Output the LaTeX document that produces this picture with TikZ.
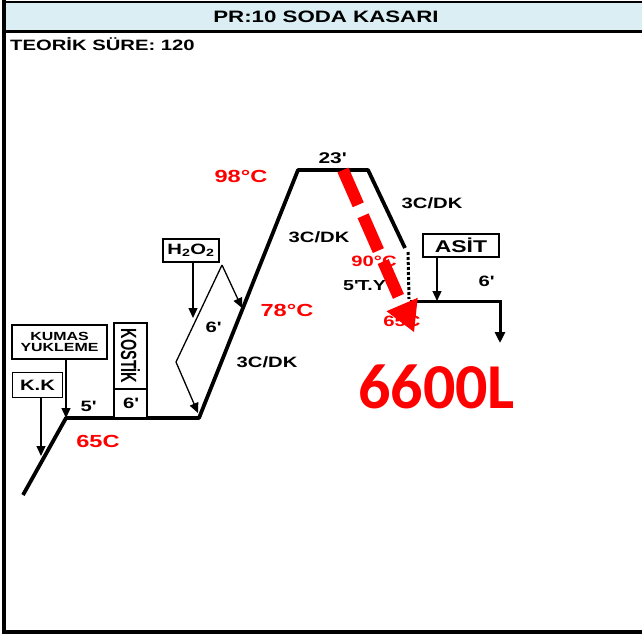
\documentclass[tikz,border=0pt]{standalone}
\usepackage{fontspec}
\setmainfont{Liberation Sans}[FakeStretch=1.35]
\newfontfamily\plainsans{Liberation Sans}
\newfontfamily\calib{Carlito}
\usetikzlibrary{arrows.meta}
\newcommand\fsz[1]{\fontsize{#1}{#1}\selectfont}
\newcommand\pr{\textquotesingle}
\definecolor{hdr}{HTML}{DAEEF3}
\definecolor{rd}{HTML}{FF0000}
\begin{document}
\begin{tikzpicture}[x=1pt,y=-1pt,
  lbl/.style={inner sep=0, anchor=center},
  redlbl/.style={lbl, text=rd},
  box/.style={draw, line width=1.3pt, inner sep=0, fill=white},
  thinline/.style={line width=1.3pt},
  thinarrow/.style={line width=1.3pt, -{Triangle[length=10pt,width=9pt]}},
  profile/.style={line width=3.8pt, line join=round}]
\useasboundingbox (0,0) rectangle (642,635);
\fill[white] (0,0) rectangle (642,635);
% frame and header
\fill[hdr] (4,2) rectangle (642,31);
\draw[line width=2pt] (2,1.5) -- (642,1.5);
\draw[line width=3pt] (4,31) -- (642,31);
\draw[line width=4.5pt] (4,0) -- (4,634);
\draw[line width=4pt] (2,631.5) -- (642,631.5);
\node[lbl, font=\bfseries\fsz{16.5}] (title) at (326,17) {PR:10 SODA KASARI};
\node[lbl, anchor=west, font=\bfseries\fsz{15}] (sure) at (10,44) {TEORİK SÜRE: 120};

% profile coordinates
\coordinate (p0) at (23,495);
\coordinate (p1) at (66,418);
\coordinate (p2) at (199,418);
\coordinate (p3) at (298,170);
\coordinate (p4) at (368,170);
\coordinate (p5) at (405,248);
\coordinate (d0) at (408,252);
\coordinate (d1) at (409,299);
\coordinate (q0) at (410,301);
\coordinate (q1) at (500,301);
\coordinate (q2) at (500,343);
\draw[profile] (p0) -- (p1) -- (p2) -- (p3) -- (p4) -- (p5);
\draw[line width=3pt, dotted] (d0) -- (d1);
\draw[line width=3pt, -{Triangle[length=11pt,width=10pt]}] (q0) -- (q1) -- (q2);

% boxes on the left
\node[box, minimum width=50pt, minimum height=25pt] (kk) at (37.5,385) {};
\node[lbl, font=\bfseries\fsz{15}] at (kk) {K.K};
\node[box, minimum width=95pt, minimum height=34pt, align=center,
      font=\bfseries\fsz{11.8}] (kumas) at (59.5,342) {KUMAS\\[-1pt]YUKLEME};
\coordinate (kkt) at (41,456);
\coordinate (kut) at (66,418);
\draw[thinarrow] (kk.south -| kkt) -- (kkt);
\draw[thinarrow] (kumas.south -| kut) -- (kut);

\node[box, minimum width=33pt, minimum height=66pt] (kos) at (130.5,356) {};
\node[lbl, rotate=-90, font=\plainsans\bfseries\fsz{22}] at (kos) {\scalebox{0.66}[1]{KOSTİK}};
\node[box, minimum width=33pt, minimum height=29pt] (kos6) at (130.5,403.5) {};
\node[lbl, font=\bfseries\fsz{15}] at (kos6) {6\pr};

\node[lbl, font=\bfseries\fsz{15}] (l5) at (88,406) {5\pr};
\node[redlbl, font=\bfseries\fsz{17.5}] (l65) at (98,441) {65C};

% H2O2
\node[box, minimum width=56pt, minimum height=23pt] (h2) at (191,250.5) {};
\node[lbl, font=\bfseries\fsz{15}] at (h2) {H\textsubscript{2}O\textsubscript{2}};
\coordinate (ht) at (193,318);
\draw[thinarrow] (h2.south -| ht) -- (ht);
\coordinate (pa) at (222,265);
\coordinate (pb) at (176,362);
\coordinate (pc) at (242,308);
\coordinate (pd) at (198,413);
\draw[thinline] (pb) -- (pa);
\draw[thinarrow] (pa) -- (pc);
\draw[thinarrow] (pb) -- (pd);
\node[lbl, font=\bfseries\fsz{15}] at (213,327) {6\pr};

\node[redlbl, font=\bfseries\fsz{17.5}] at (287,310) {78°C};
\node[lbl, font=\bfseries\fsz{15}] at (267,362) {3C/DK};
\node[redlbl, font=\bfseries\fsz{17.5}] at (241,176) {98°C};
\node[lbl, font=\bfseries\fsz{15}] at (319,237) {3C/DK};
\node[lbl, font=\bfseries\fsz{15.5}] at (332,158) {23\pr};
\node[lbl, font=\bfseries\fsz{15}] at (432,203) {3C/DK};

% right part
\node[box, minimum width=76pt, minimum height=23pt] (asit) at (461,245.5) {};
\node[lbl, font=\bfseries\fsz{17}] at (asit) {ASİT};
\coordinate (at) at (437,301);
\draw[thinarrow] (asit.south -| at) -- (at);
\node[lbl, font=\bfseries\fsz{15}] at (486,281) {6\pr};
\node[redlbl, font=\bfseries\fsz{15}] at (374,261) {90°C};
\node[lbl, anchor=west, font=\bfseries\fsz{14.5}] at (343,286) {5\pr T.Y};
\node[redlbl, font=\bfseries\fsz{15}] at (402,321) {65C};

% red dashed arrow
\coordinate (ra) at (343,170);
\coordinate (rb) at (402,304.5);
\draw[rd, line width=12pt, dash pattern=on 38pt off 12pt] (ra) -- (rb);
\fill[rd] (414,332) -- (417.7,297.8) -- (386.5,311.2) -- cycle;

\node[anchor=base west, inner sep=0, text=rd, font=\calib\bfseries\fsz{64}] (vol) at (358,408) {6600L};
\end{tikzpicture}
\end{document}
